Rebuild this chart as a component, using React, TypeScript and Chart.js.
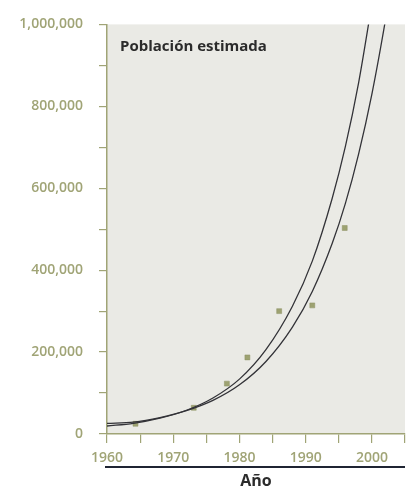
import React, { useEffect, useRef } from "react";
import { Chart, registerables } from "chart.js";

Chart.register(...registerables);

const CHART_TITLE = "Población estimada";
const X_TITLE = "Año";

// Observed points (squares)
const obsYears = [1964.3, 1973.1, 1978.1, 1981.2, 1986.0, 1991.0, 1995.9];
const obsValues = [25000, 64000, 123000, 187000, 300000, 314000, 503000];

// Curve A (steeper)
const curveAYears = [1960, 1964, 1968, 1972, 1976, 1980, 1984, 1988, 1991, 1994, 1996, 1998, 2000];
const curveAValues = [19500, 26000, 38500, 58000, 88000, 134000, 206000, 312000, 422000, 575000, 702000, 858000, 1050000];

// Curve B (flatter)
const curveBYears = [1960, 1964, 1968, 1972, 1976, 1980, 1984, 1988, 1991, 1994, 1996, 1998, 2000, 2002, 2003];
const curveBValues = [26000, 29000, 40000, 57000, 82000, 120000, 177000, 261000, 348000, 465000, 563000, 684000, 830000, 1006000, 1105000];

const OLIVE = "#a0a476";
const FONT = "'Open Sans', 'Noto Sans', sans-serif";

const decor = {
  id: "decor",
  beforeDraw(chart: any) {
    const { ctx, chartArea: a } = chart;
    ctx.save();
    ctx.fillStyle = "#eaeae5";
    ctx.fillRect(a.left, a.top, a.right - a.left, a.bottom - a.top);
    ctx.restore();
  },
  afterDraw(chart: any) {
    const { ctx, chartArea: a } = chart;
    ctx.save();
    ctx.fillStyle = "#2b2b2b";
    ctx.font = `bold 15px ${FONT}`;
    ctx.textBaseline = "middle";
    ctx.textAlign = "left";
    ctx.fillText(CHART_TITLE, a.left + 13, a.top + 22);

    ctx.strokeStyle = "#1f2433";
    ctx.lineWidth = 2;
    ctx.beginPath();
    ctx.moveTo(a.left - 2, a.bottom + 33);
    ctx.lineTo(a.right, a.bottom + 33);
    ctx.stroke();

    ctx.textAlign = "center";
    ctx.font = `bold 16px ${FONT}`;
    ctx.fillText(X_TITLE, (a.left + a.right) / 2, a.bottom + 47);
    ctx.restore();
  },
};

export default function App() {
  const ref = useRef<HTMLCanvasElement | null>(null);
  useEffect(() => {
    document.body.style.margin = "0";
    const canvas = ref.current;
    if (!canvas) return;
    const lineStyle = {
      type: "line",
      borderColor: "#333338",
      borderWidth: 1.3,
      pointRadius: 0,
      cubicInterpolationMode: "monotone",
      fill: false,
    };
    const chart = new Chart(canvas, {
      type: "scatter",
      data: {
        datasets: [
          {
            ...lineStyle,
            data: curveAYears.map((x, i) => ({ x, y: curveAValues[i] })),
          } as any,
          {
            ...lineStyle,
            data: curveBYears.map((x, i) => ({ x, y: curveBValues[i] })),
          } as any,
          {
            type: "scatter",
            data: obsYears.map((x, i) => ({ x, y: obsValues[i] })),
            pointStyle: "rect",
            pointRadius: 3.5,
            backgroundColor: "#9da271",
            borderColor: "#8c9163",
            borderWidth: 0.5,
          } as any,
        ],
      },
      options: {
        animation: false,
        responsive: false,
        layout: { padding: { top: 20, right: 5, left: 0, bottom: 0 } },
        plugins: { legend: { display: false }, tooltip: { enabled: false } },
        scales: {
          x: {
            type: "linear",
            min: 1960,
            max: 2005,
            afterFit: (s: any) => {
              s.height = 53;
            },
            border: { color: OLIVE, width: 1.5 },
            grid: { drawOnChartArea: false, tickLength: 9, color: OLIVE, lineWidth: 1.2 },
            ticks: {
              stepSize: 5,
              color: OLIVE,
              font: { family: FONT, size: 14, weight: "600" },
              padding: 7,
              maxRotation: 0,
              autoSkip: false,
              callback: (v: any) => (Number(v) % 10 === 0 ? String(v) : ""),
            },
          },
          y: {
            type: "linear",
            min: 0,
            max: 1000000,
            afterFit: (s: any) => {
              s.width = 107;
            },
            border: { color: OLIVE, width: 1.5 },
            grid: { drawOnChartArea: false, tickLength: 8, color: OLIVE, lineWidth: 1.2 },
            ticks: {
              stepSize: 100000,
              color: OLIVE,
              font: { family: FONT, size: 14, weight: "600" },
              padding: 16,
              autoSkip: false,
              callback: (v: any) =>
                Number(v) % 200000 === 0 ? Number(v).toLocaleString("en-US") : "",
            },
          },
        },
      } as any,
      plugins: [decor],
    });
    return () => chart.destroy();
  }, []);
  return (
    <div style={{ width: 412, height: 487 }}>
      <canvas ref={ref} width={412} height={487} style={{ display: "block" }} />
    </div>
  );
}
